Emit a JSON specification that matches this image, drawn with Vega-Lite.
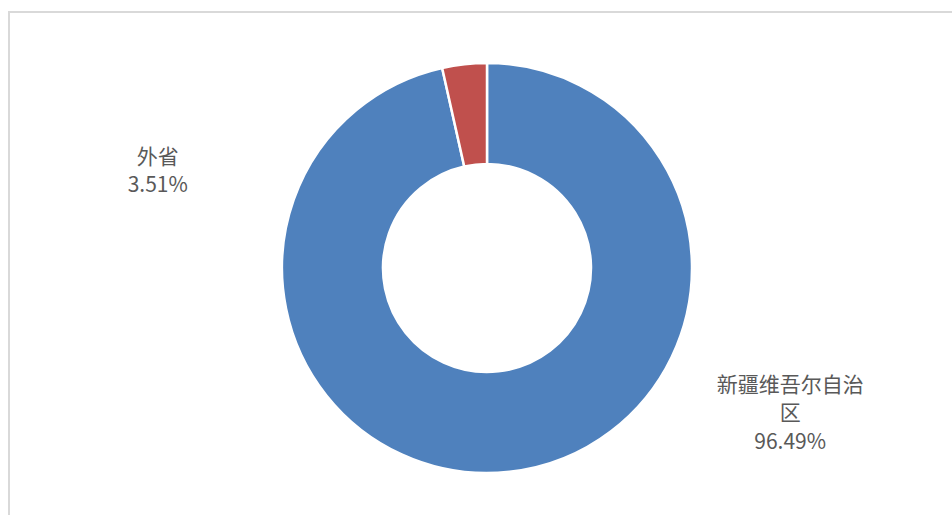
{
  "$schema": "https://vega.github.io/schema/vega-lite/v6.json",
  "width": 956,
  "height": 512,
  "autosize": {"type": "none"},
  "padding": {"left": 9, "top": 12, "right": -13, "bottom": -9},
  "background": "white",
  "config": {"view": {"stroke": null}},
  "data": {
    "values": [
      {"name": "新疆维吾尔自治区", "value": 96.49, "label": "新疆维吾尔自治\n区\n96.49%"},
      {"name": "外省", "value": 3.51, "label": "外省\n3.51%"}
    ]
  },
  "layer": [
    {
      "data": {"values": [{"frame": 1}]},
      "mark": {"type": "rect", "fill": null, "stroke": "#d9d9d9", "strokeWidth": 2},
      "encoding": {}
    },
    {
      "mark": {"type": "arc", "outerRadius": 205, "innerRadius": 104, "stroke": "white", "strokeWidth": 2.5},
      "encoding": {
        "theta": {"field": "value", "type": "quantitative", "stack": true},
        "order": {"field": "name", "sort": "descending"},
        "color": {
          "field": "name",
          "type": "nominal",
          "scale": {"domain": ["新疆维吾尔自治区", "外省"], "range": ["#4F81BD", "#C0504D"]},
          "legend": null
        }
      }
    },
    {
      "mark": {"type": "text", "radius": 220, "dx": -305, "dy": 109, "font": "Noto Sans CJK SC", "fontSize": 21, "lineHeight": 28, "lineBreak": "\n", "color": "#595959", "align": "center", "baseline": "middle"},
      "encoding": {
        "theta": {"field": "value", "type": "quantitative", "stack": true},
        "order": {"field": "name", "sort": "descending"},
        "detail": {"field": "name", "type": "nominal"},
        "text": {"condition": {"test": "datum.name === '外省'", "field": "label", "type": "nominal"}, "value": ""}
      }
    },
    {
      "mark": {"type": "text", "radius": 220, "dx": 279, "dy": -101, "font": "Noto Sans CJK SC", "fontSize": 21, "lineHeight": 28.5, "lineBreak": "\n", "color": "#595959", "align": "center", "baseline": "middle"},
      "encoding": {
        "theta": {"field": "value", "type": "quantitative", "stack": true},
        "order": {"field": "name", "sort": "descending"},
        "detail": {"field": "name", "type": "nominal"},
        "text": {"condition": {"test": "datum.name === '新疆维吾尔自治区'", "field": "label", "type": "nominal"}, "value": ""}
      }
    }
  ]
}
